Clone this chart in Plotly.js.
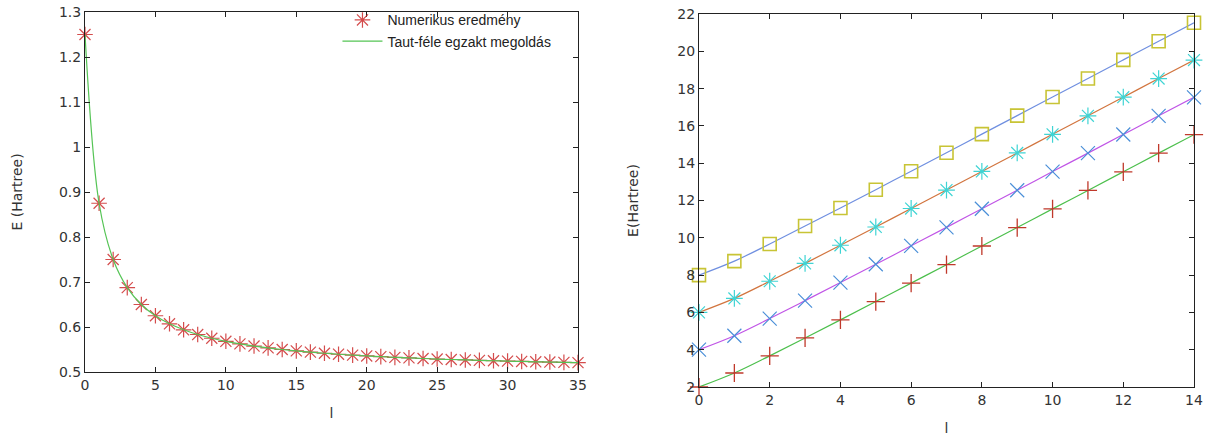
<!DOCTYPE html>
<html><head><meta charset="utf-8">
<script src="https://cdn.plot.ly/plotly-3.0.1.min.js"></script>
<style>html,body{margin:0;padding:0;background:#fff}</style>
</head><body><div id="chart" style="width:1215px;height:437px"></div>
<script>
// Left chart: E (Hartree) vs l
const lLeft = [0,1,2,3,4,5,6,7,8,9,10,11,12,13,14,15,16,17,18,19,20,21,22,23,24,25,26,27,28,29,30,31,32,33,34,35];
const eNumeric = [1.25,0.875,0.75,0.6875,0.65,0.625,0.6071,0.5938,0.5833,0.575,0.5682,0.5625,0.5577,0.5536,0.55,0.5469,0.5441,0.5417,0.5395,0.5375,0.5357,0.5341,0.5326,0.5313,0.53,0.5288,0.5278,0.5268,0.5259,0.525,0.5242,0.5234,0.5227,0.5221,0.5214,0.5208];
const eExact = [1.25,0.875,0.75,0.6875,0.65,0.625,0.6071,0.5938,0.5833,0.575,0.5682,0.5625,0.5577,0.5536,0.55,0.5469,0.5441,0.5417,0.5395,0.5375,0.5357,0.5341,0.5326,0.5313,0.53,0.5288,0.5278,0.5268,0.5259,0.525,0.5242,0.5234,0.5227,0.5221,0.5214,0.5208];
const legendNames = ["Numerikus eredmény", "Taut-féle egzakt megoldás"];

// Right chart: four levels vs l
const lRight = [0,1,2,3,4,5,6,7,8,9,10,11,12,13,14];
const level0 = [2.0,2.75,3.67,4.63,5.6,6.58,7.57,8.56,9.56,10.55,11.55,12.54,13.54,14.54,15.53];
const level1 = [4.0,4.75,5.67,6.63,7.6,8.58,9.57,10.56,11.56,12.55,13.55,14.54,15.54,16.54,17.53];
const level2 = [6.0,6.75,7.67,8.63,9.6,10.58,11.57,12.56,13.56,14.55,15.55,16.54,17.54,18.54,19.53];
const level3 = [8.0,8.75,9.67,10.63,11.6,12.58,13.57,14.56,15.56,16.55,17.55,18.54,19.54,20.54,21.53];

const txtColor = '#333';
const tickFont = {family: 'DejaVu Sans, sans-serif', size: 14, color: txtColor};

function lineTrace(x, y, color, xa, ya, name, show) {
  return {x: x, y: y, type: 'scatter', mode: 'lines', line: {color: color, width: 1.2, shape: 'spline'},
          xaxis: xa, yaxis: ya, name: name || '', showlegend: !!show, hoverinfo: 'skip', cliponaxis: false};
}
function markTrace(x, y, symbol, color, size, xa, ya, name, show, w) {
  return {x: x, y: y, type: 'scatter', mode: 'markers',
          marker: {symbol: symbol, size: size, color: color, line: {color: color, width: w || 1.2}},
          xaxis: xa, yaxis: ya, name: name || '', showlegend: !!show, cliponaxis: false};
}

const traces = [
  markTrace(lLeft, eNumeric, 'asterisk-open', 'rgba(205,45,45,0.85)', 13, 'x', 'y', legendNames[0], true, 1.2),
  lineTrace(lLeft, eExact, '#55c455', 'x', 'y', legendNames[1], true),

  lineTrace(lRight, level0, '#4cbf4c', 'x2', 'y2'),
  lineTrace(lRight, level1, '#c055e6', 'x2', 'y2'),
  lineTrace(lRight, level2, '#d2753f', 'x2', 'y2'),
  lineTrace(lRight, level3, '#6f8fe0', 'x2', 'y2'),
  markTrace(lRight, level0, 'cross-thin-open', '#c0392b', 13, 'x2', 'y2', '', false, 1.3),
  markTrace(lRight, level1, 'x-thin-open', '#4a8fd8', 14, 'x2', 'y2', '', false, 1.2),
  markTrace(lRight, level2, 'asterisk-open', '#3fd4d4', 14, 'x2', 'y2', '', false, 1.2),
  markTrace(lRight, level3, 'square-open', '#c8c435', 13, 'x2', 'y2', '', false, 1.6)
];

const axBase = {showgrid: false, zeroline: false, showline: true, linecolor: '#222', linewidth: 1,
                mirror: 'ticks', ticks: 'inside', ticklen: 5, tickcolor: '#222', tickfont: tickFont};

const layout = {
  width: 1215, height: 437,
  margin: {l: 0, r: 0, t: 0, b: 0},
  paper_bgcolor: '#fff', plot_bgcolor: '#fff',
  font: {family: 'DejaVu Sans, sans-serif', color: txtColor},
  showlegend: true,
  legend: {x: 0.458, xanchor: 'right', y: 0.99, yanchor: 'top', bgcolor: 'rgba(0,0,0,0)',
           font: {family: 'Liberation Sans, Arial, sans-serif', size: 14, color: '#222'},
           tracegroupgap: 0, itemwidth: 40},
  xaxis: Object.assign({}, axBase, {domain: [85/1215, 578/1215], range: [0, 35], tickvals: [0,5,10,15,20,25,30,35],
          anchor: 'y', title: {text: 'l', font: {size: 14, color: txtColor}, standoff: 16}}),
  yaxis: Object.assign({}, axBase, {domain: [65/437, 425/437], range: [0.5, 1.3], tickvals: [0.5,0.6,0.7,0.8,0.9,1,1.1,1.2,1.3],
          ticktext: ['0.5','0.6','0.7','0.8','0.9','1','1.1','1.2','1.3'],
          anchor: 'x', title: {text: 'E (Hartree)', font: {size: 14, color: txtColor}, standoff: 33}}),
  xaxis2: Object.assign({}, axBase, {domain: [699/1215, 1194/1215], range: [0, 14], tickvals: [0,2,4,6,8,10,12,14],
          anchor: 'y2', title: {text: 'l', font: {size: 14, color: txtColor}, standoff: 16}}),
  yaxis2: Object.assign({}, axBase, {domain: [50/437, 423/437], range: [2, 22], tickvals: [2,4,6,8,10,12,14,16,18,20,22],
          anchor: 'x2', title: {text: 'E(Hartree)', font: {size: 14, color: txtColor}, standoff: 35}})
};

Plotly.newPlot('chart', traces, layout, {displayModeBar: false, staticPlot: true});
</script></body></html>
